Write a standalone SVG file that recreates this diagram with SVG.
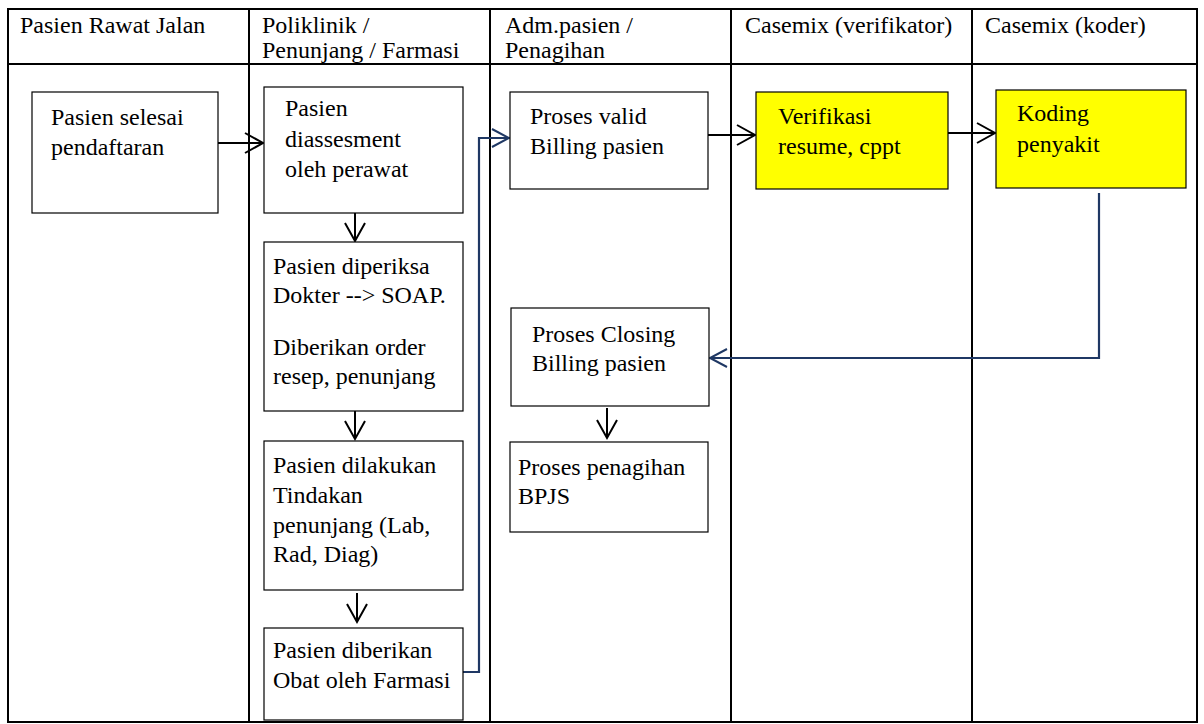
<svg xmlns="http://www.w3.org/2000/svg" width="1204" height="724" viewBox="0 0 1204 724">
<style>
text{font-family:"Liberation Serif","Times New Roman",serif;font-size:24px;fill:#000}
.grid{stroke:#000;stroke-width:2;fill:none}
.box{fill:#fff;stroke:#000;stroke-width:1.2}
.yel{fill:#ffff00;stroke:#000;stroke-width:1.2}
.blk{stroke:#000;stroke-width:2;fill:none}
.blu{stroke:#1f3864;stroke-width:2.2;fill:none}
</style>
<defs>
<marker id="ab" markerUnits="userSpaceOnUse" markerWidth="22" markerHeight="22" refX="18" refY="10" orient="auto" overflow="visible">
<path d="M0,0 L18,10 L0,20" fill="none" stroke="#000" stroke-width="2"/>
</marker>
<marker id="au" markerUnits="userSpaceOnUse" markerWidth="22" markerHeight="22" refX="18" refY="10" orient="auto" overflow="visible">
<path d="M1,1 L18,10 L1,19" fill="none" stroke="#1f3864" stroke-width="2"/>
</marker>
</defs>
<rect width="1204" height="724" fill="#fff"/>
<g id="table">
<rect class="grid" x="8" y="9" width="1189" height="713"/>
<line class="grid" x1="8" y1="64" x2="1197" y2="64"/>
<line class="grid" x1="249" y1="9" x2="249" y2="722"/>
<line class="grid" x1="490" y1="9" x2="490" y2="722"/>
<line class="grid" x1="731" y1="9" x2="731" y2="722"/>
<line class="grid" x1="972" y1="9" x2="972" y2="722"/>
<text x="20" y="33">Pasien Rawat Jalan</text>
<text x="262" y="33">Poliklinik /</text>
<text x="262" y="58">Penunjang / Farmasi</text>
<text x="505" y="33">Adm.pasien /</text>
<text x="505" y="58">Penagihan</text>
<text x="745" y="33">Casemix (verifikator)</text>
<text x="985" y="33">Casemix (koder)</text>
</g>
<g id="connectors">
<line class="blk" x1="218" y1="143" x2="263" y2="143" marker-end="url(#ab)"/>
<line class="blk" x1="355" y1="213" x2="355" y2="241" marker-end="url(#ab)"/>
<line class="blk" x1="355" y1="411" x2="355" y2="439" marker-end="url(#ab)"/>
<line class="blk" x1="357" y1="593" x2="357" y2="622" marker-end="url(#ab)"/>
<line class="blk" x1="708" y1="135" x2="755" y2="135" marker-end="url(#ab)"/>
<line class="blk" x1="948" y1="133" x2="995" y2="133" marker-end="url(#ab)"/>
<line class="blk" x1="607" y1="408" x2="607" y2="438" marker-end="url(#ab)"/>
<path class="blu" d="M463,672 H479 V138 H509" marker-end="url(#au)"/>
<path class="blu" d="M1099,193 V358 H710" marker-end="url(#au)"/>
</g>
<g id="n1">
<rect class="box" x="32" y="92" width="186" height="121"/>
<text x="51" y="125">Pasien selesai</text>
<text x="51" y="155">pendaftaran</text>
</g>
<g id="n2">
<rect class="box" x="264" y="87" width="199" height="126"/>
<text x="285" y="116">Pasien</text>
<text x="285" y="147">diassesment</text>
<text x="285" y="177">oleh perawat</text>
</g>
<g id="n3">
<rect class="box" x="264" y="242" width="199" height="169"/>
<text x="273" y="274">Pasien diperiksa</text>
<text x="273" y="303">Dokter --&gt; SOAP.</text>
<text x="273" y="355">Diberikan order</text>
<text x="273" y="384">resep, penunjang</text>
</g>
<g id="n4">
<rect class="box" x="264" y="441" width="199" height="149"/>
<text x="273" y="473">Pasien dilakukan</text>
<text x="273" y="503">Tindakan</text>
<text x="273" y="533">penunjang (Lab,</text>
<text x="273" y="562">Rad, Diag)</text>
</g>
<g id="n5">
<rect class="box" x="264" y="628" width="199" height="92"/>
<text x="273" y="658">Pasien diberikan</text>
<text x="273" y="688">Obat oleh Farmasi</text>
</g>
<g id="n6">
<rect class="box" x="510" y="92" width="198" height="97"/>
<text x="530" y="124">Proses valid</text>
<text x="530" y="154">Billing pasien</text>
</g>
<g id="n7">
<rect class="yel" x="756" y="92" width="192" height="97"/>
<text x="778" y="124">Verifikasi</text>
<text x="778" y="154">resume, cppt</text>
</g>
<g id="n8">
<rect class="yel" x="996" y="90" width="190" height="98"/>
<text x="1017" y="121">Koding</text>
<text x="1017" y="152">penyakit</text>
</g>
<g id="n9">
<rect class="box" x="511" y="308" width="198" height="98"/>
<text x="532" y="342">Proses Closing</text>
<text x="532" y="371">Billing pasien</text>
</g>
<g id="n10">
<rect class="box" x="510" y="442" width="198" height="90"/>
<text x="518" y="475">Proses penagihan</text>
<text x="518" y="504">BPJS</text>
</g>
</svg>
